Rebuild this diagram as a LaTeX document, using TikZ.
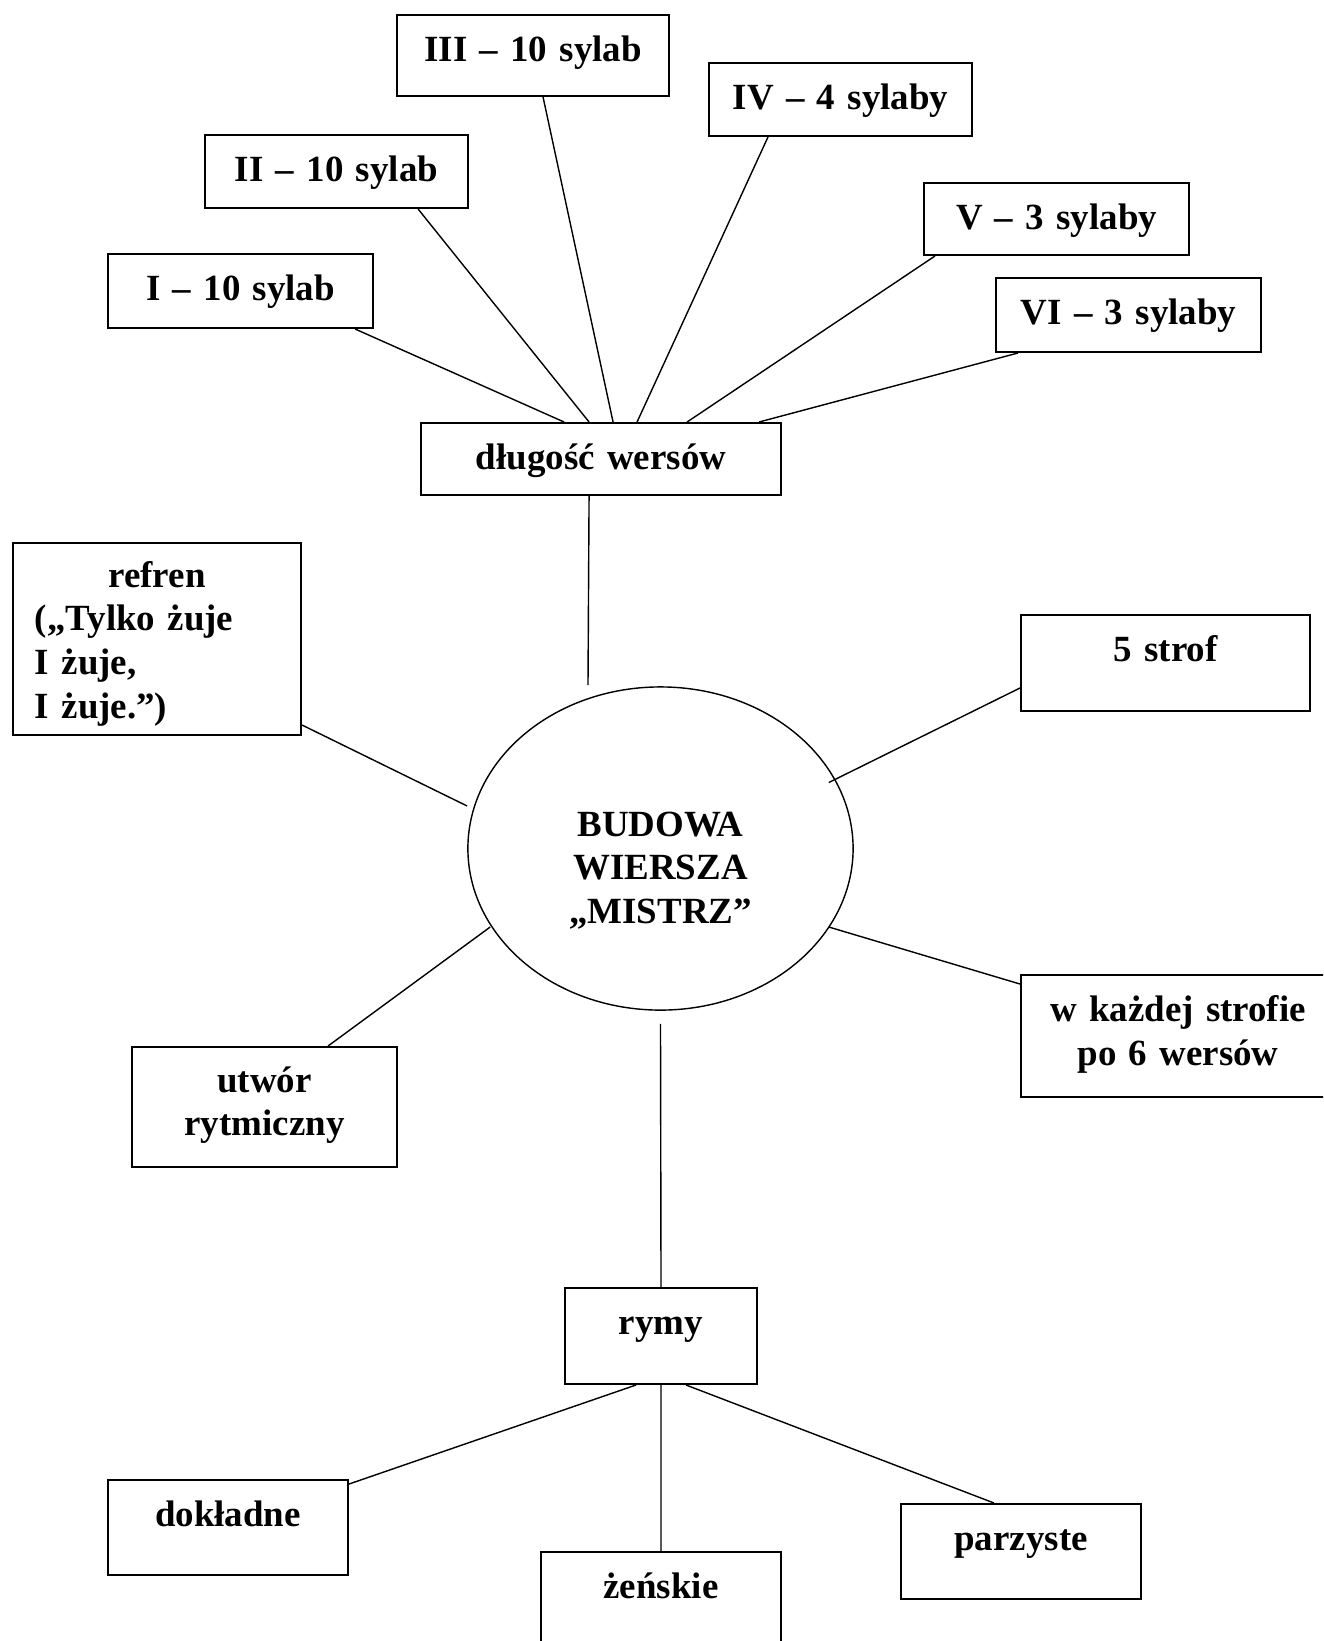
\documentclass[tikz,border=0pt]{standalone}
\usepackage{fontspec}
\setmainfont{Liberation Serif}
\usetikzlibrary{calc,shapes.geometric}
\tikzset{
  box/.style={draw, line width=0.55pt, anchor=north west, inner sep=0pt,
    align=center, text height=0.465cm,
    font=\bfseries\fontsize{10.5}{12.5}\selectfont},
  link/.style={line width=0.4pt}
}
\begin{document}
\begin{tikzpicture}[x=0.01cm,y=-0.01cm]
      \path[use as bounding box, clip] (0,0) rectangle (1323,1641);
      \node[box, text width=2.72cm, text depth=0.345cm] (s3) at (396,14) {III – 10 sylab};
      \node[box, text width=2.63cm, text depth=0.265cm] (s4) at (708,62) {IV – 4 sylaby};
      \node[box, text width=2.63cm, text depth=0.265cm] (s2) at (204,134) {II – 10 sylab};
      \node[box, text width=2.65cm, text depth=0.255cm] (s5) at (923,182) {V – 3 sylaby};
      \node[box, text width=2.65cm, text depth=0.275cm] (s1) at (107,253) {I – 10 sylab};
      \node[box, text width=2.65cm, text depth=0.275cm] (s6) at (995,277) {VI – 3 sylaby};
      \node[box, text width=3.60cm, text depth=0.255cm] (dl) at (420,422) {długość wersów};
      \node[box, text width=2.44cm, inner xsep=0.22cm, align=left,
        text height=0.44cm, text depth=1.48cm] (refren) at (12,542)
        {\makebox[2.44cm]{refren}\\(„Tylko żuje\\I żuje,\\I żuje.”)};
      \node[box, text width=2.89cm, text depth=0.495cm] (strof) at (1020,614) {5 strof};
      \node[draw, ellipse, line width=0.4pt, inner sep=0pt,
        minimum width=3.85cm, minimum height=3.23cm,
        text width=2.0cm, align=center, text height=0.3cm, text depth=0.55cm,
        font=\bfseries\fontsize{10.5}{12.5}\selectfont] (main) at (660.5,848.5)
        {BUDOWA\\WIERSZA\\„MISTRZ”};
      \node[box, text width=3.14cm, text depth=0.75cm] (wk) at (1020,974) {w każdej strofie\\po 6 wersów};
      \node[box, text width=2.65cm, text height=0.45cm, text depth=0.75cm] (utwor) at (131,1046) {utwór\\rytmiczny};
      \node[box, text width=1.92cm, text depth=0.495cm] (rymy) at (564,1287) {rymy};
      \node[box, text width=2.40cm, text depth=0.485cm] (dokl) at (107,1479) {dokładne};
      \node[box, text width=2.40cm, text depth=1.0cm] (zen) at (540,1551) {żeńskie};
      \node[box, text width=2.40cm, text depth=0.485cm] (parz) at (900,1503) {parzyste};
      \begin{scope}[link]
        \draw ($(s1.south east)+(-19,0)$) -- ($(dl.north)+(-37,0)$);
        \draw ($(s2.south east)+(-51,0)$) -- ($(dl.north)+(-12,0)$);
        \draw ($(s3.south)+(10,0)$) -- ($(dl.north)+(12,0)$);
        \draw ($(s4.south west)+(60,0)$) -- ($(dl.north)+(36,0)$);
        \draw ($(s5.south west)+(12,0)$) -- ($(dl.north)+(86,0)$);
        \draw ($(s6.south west)+(23,0)$) -- ($(dl.north)+(158,0)$);
        \draw ($(dl.south)+(-12,0)$) -- ($(main.north)+(-72.5,-1)$);
        \draw ($(refren.south east)+(0,-11)$) -- ($(main.west)+(0,-42.5)$);
        \draw ($(strof.west)+(0,25)$) -- ($(main.east)+(-25,-66)$);
        \draw ($(main.east)+(-25,78.5)$) -- ($(wk.north west)+(0,10)$);
        \draw ($(main.west)+(23,78.5)$) -- ($(utwor.north)+(63.5,0)$);
        \draw ($(main.south)+(0,13)$) -- (rymy.north);
        \draw ($(rymy.south)+(-25,0)$) -- ($(dokl.north east)+(0,5)$);
        \draw (rymy.south) -- (zen.north);
        \draw ($(rymy.south)+(25,0)$) -- ($(parz.north west)+(94,0)$);
      \end{scope}
    \end{tikzpicture}
\end{document}
